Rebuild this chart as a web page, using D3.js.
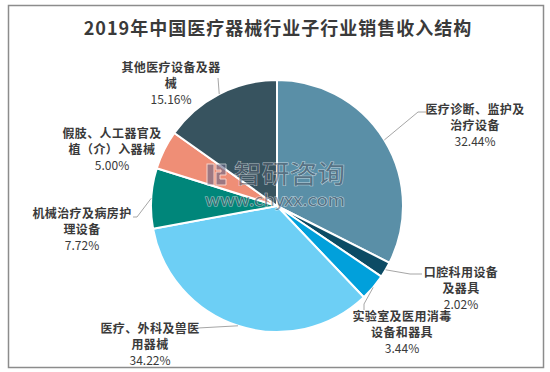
<html>
<head>
<meta charset="utf-8">
<script src="https://d3js.org/d3.v7.min.js"></script>
<style>
  body { margin: 0; background: #fff; }
  text { font-family: "Noto Sans CJK SC", "Noto Sans", sans-serif; }
</style>
</head>
<body>
<div id="chart"></div>
<script>
// data
const categories = [
  "医疗诊断、监护及治疗设备",
  "口腔科用设备及器具",
  "实验室及医用消毒设备和器具",
  "医疗、外科及兽医用器械",
  "机械治疗及病房护理设备",
  "假肢、人工器官及植（介）入器械",
  "其他医疗设备及器械"
];
const shares = [32.44, 2.02, 3.44, 34.22, 7.72, 5.00, 15.16];
const colors = ["#5a8fa7", "#0c4b64", "#01a0db", "#6dcff5", "#00867a", "#ef8e76", "#37535f"];
const title = "2019年中国医疗器械行业子行业销售收入结构";

// label placement (label centre x, first line y, wrap width, leader points)
const labelLayout = [
  { x: 475, y: 109, wrap: 8, leader: [[418, 112], [426, 112]] },
  { x: 461, y: 272, wrap: 6, leader: [[410, 274], [422, 274]] },
  { x: 402, y: 316, wrap: 8, leader: [[364, 304], [364, 310]] },
  { x: 150, y: 328, wrap: 8, leader: [[198, 328]] },
  { x: 82,  y: 213, wrap: 8, leader: [[137, 217], [133, 217]] },
  { x: 112, y: 133, wrap: 8, leader: null },
  { x: 171, y: 67,  wrap: 8, leader: [[218, 78]] }
];

const W = 550, H = 372;
const cx = 277, cy = 206, r = 126;

const svg = d3.select("#chart").append("svg")
  .attr("width", W).attr("height", H);

// frame
svg.append("rect")
  .attr("x", 8.5).attr("y", 5.5)
  .attr("width", 535).attr("height", 362)
  .attr("fill", "#fff")
  .attr("stroke", "#8c8c8c")
  .attr("stroke-width", 1.5);

svg.append("text")
  .attr("x", 278).attr("y", 35)
  .attr("text-anchor", "middle")
  .attr("font-size", 18)
  .attr("font-weight", "bold")
  .attr("letter-spacing", 1)
  .attr("fill", "#3a3a3a")
  .text(title);

const pie = d3.pie().sort(null).value(d => d)(shares);
const arc = d3.arc().innerRadius(0).outerRadius(r);

const g = svg.append("g").attr("transform", "translate(" + cx + "," + cy + ")");

g.selectAll("path.slice")
  .data(pie)
  .enter()
  .append("path")
  .attr("class", "slice")
  .attr("d", arc)
  .attr("fill", (d, i) => colors[i])
  .attr("stroke", "#fff")
  .attr("stroke-width", 2)
  .attr("stroke-linejoin", "round");

// watermark
const wm = svg.append("g").attr("opacity", 0.6);
wm.append("rect").attr("x", 207).attr("y", 164).attr("width", 7).attr("height", 21)
  .attr("fill", "#6a6a8a").attr("stroke", "#fff").attr("stroke-width", 1);
wm.append("path").attr("d", "M216,164 h10 v11 h-6 v4 h6 v6 h-10 v-13 h5 v-2 h-5 z")
  .attr("fill", "#6a6a8a").attr("stroke", "#fff").attr("stroke-width", 1);
wm.append("text")
  .attr("x", 234).attr("y", 183)
  .attr("font-size", 25)
  .attr("textLength", 111)
  .attr("lengthAdjust", "spacingAndGlyphs")
  .attr("fill", "#55606e")
  .attr("stroke", "#fff").attr("stroke-width", 1)
  .attr("paint-order", "stroke")
  .text("智研咨询");
wm.append("text")
  .attr("x", 205).attr("y", 206)
  .attr("font-size", 16)
  .attr("textLength", 140)
  .attr("lengthAdjust", "spacingAndGlyphs")
  .attr("fill", "#55606e")
  .attr("stroke", "#fff").attr("stroke-width", 1)
  .attr("paint-order", "stroke")
  .text("www.chyxx.com");

// leader lines from slice edge midpoint
pie.forEach((d, i) => {
  const lay = labelLayout[i];
  if (!lay.leader) return;
  const mid = (d.startAngle + d.endAngle) / 2;
  const p0 = [cx + r * Math.sin(mid), cy - r * Math.cos(mid)];
  svg.append("polyline")
    .attr("points", [p0].concat(lay.leader).map(p => p.join(",")).join(" "))
    .attr("fill", "none")
    .attr("stroke", "#a6a6a6")
    .attr("stroke-width", 1);
});

// labels
const lineGap = 16.5;
pie.forEach((d, i) => {
  const lay = labelLayout[i];
  const name = categories[i];
  const lines = [];
  for (let k = 0; k < name.length; k += lay.wrap) lines.push(name.slice(k, k + lay.wrap));
  const t = svg.append("text")
    .attr("text-anchor", "middle")
    .attr("fill", "#3a3a3a")
    .attr("font-size", 12);
  lines.forEach((ln, j) => {
    t.append("tspan")
      .attr("x", lay.x)
      .attr("y", lay.y + j * lineGap + 4.5)
      .attr("font-weight", "bold")
      .attr("letter-spacing", 0.4)
      .text(ln);
  });
  t.append("tspan")
    .attr("x", lay.x)
    .attr("y", lay.y + lines.length * lineGap + 4.5 - 1)
    .text(shares[i].toFixed(2) + "%");
});
</script>
</body>
</html>
